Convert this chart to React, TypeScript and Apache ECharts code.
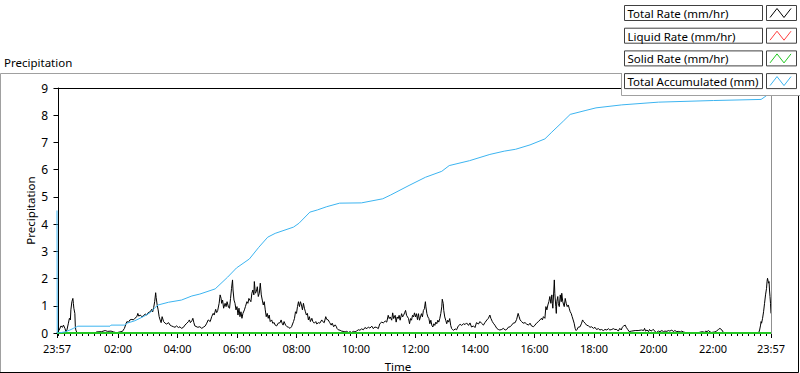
import React, { useEffect, useRef } from "react";
import * as echarts from "echarts";

const FONT = "'Noto Sans', 'DejaVu Sans', sans-serif";

// x values are minutes after midnight (the chart runs from 23:57 the day before to 23:57)
const X_MIN = -3;
const X_MAX = 1437;
const xLabelMinutes = [-3, 120, 240, 360, 480, 600, 720, 840, 960, 1080, 1200, 1320, 1437];
const yMin = 0;
const yMax = 9;

const seriesNames = [
  "Total Rate (mm/hr)",
  "Liquid Rate (mm/hr)",
  "Solid Rate (mm/hr)",
  "Total Accumulated (mm)",
];
const seriesColors = ["#000000", "#ff4040", "#22c822", "#3cb4f0"];

// Total Rate (mm/hr): [minute, value]
const totalRate: [number, number][] = [
  [-3, 0.02], [-2, 0.04], [1, 0.09], [5, 0.26], [8, 0.21], [10, 0.29], [13, 0.17], [15, 0.05], [17, 0.11],
  [20, 0.36], [22, 0.54], [24, 0.48], [25, 0.85], [27, 1.15], [29, 1.27], [30, 1.09], [31, 0.91], [33, 0.72],
  [34, 0.23], [35, 0.11], [37, 0.02], [40, 0.0], [74, 0.0], [77, 0.04], [87, 0.05], [94, 0.09], [99, 0.06],
  [106, 0.07], [111, 0.04], [117, 0.01], [124, 0.04], [129, 0.06], [133, 0.17], [136, 0.33], [138, 0.42],
  [141, 0.39], [144, 0.48], [148, 0.5], [151, 0.48], [154, 0.54], [158, 0.6], [160, 0.72], [162, 0.62],
  [165, 0.66], [168, 0.6], [171, 0.62], [175, 0.7], [178, 0.66], [181, 0.75], [185, 0.78], [188, 0.87],
  [190, 0.78], [192, 0.94], [194, 1.15], [196, 1.48], [197, 1.3], [199, 1.03], [201, 0.85], [203, 0.6],
  [205, 0.48], [207, 0.38], [209, 0.6], [212, 0.42], [215, 0.36], [218, 0.33], [222, 0.38], [225, 0.29],
  [228, 0.26], [232, 0.23], [235, 0.21], [238, 0.26], [242, 0.2], [245, 0.23], [248, 0.17], [252, 0.21],
  [255, 0.29], [259, 0.36], [262, 0.42], [264, 0.48], [266, 0.38], [269, 0.45], [271, 0.54], [273, 0.38],
  [275, 0.26], [281, 0.21], [285, 0.23], [289, 0.17], [292, 0.21], [296, 0.26], [299, 0.36], [302, 0.48],
  [306, 0.42], [309, 0.6], [312, 0.72], [314, 0.66], [317, 0.87], [319, 0.75], [321, 0.82], [324, 1.09],
  [326, 1.4], [328, 1.27], [329, 1.09], [331, 1.21], [333, 0.91], [336, 1.09], [338, 0.97], [340, 1.15],
  [343, 0.94], [345, 0.91], [347, 1.27], [349, 1.64], [351, 1.95], [352, 1.58], [354, 1.21], [356, 1.09],
  [358, 0.85], [360, 0.97], [362, 0.66], [364, 0.91], [366, 0.6], [368, 0.78], [370, 0.54], [372, 0.72],
  [375, 0.85], [377, 0.97], [380, 1.15], [382, 1.09], [384, 1.27], [386, 1.21], [388, 1.15], [390, 1.46],
  [392, 1.58], [394, 1.4], [395, 1.89], [397, 1.46], [399, 1.52], [401, 1.7], [403, 1.34], [405, 1.46],
  [407, 1.83], [409, 1.4], [411, 1.21], [413, 1.03], [415, 1.15], [417, 0.85], [419, 0.6], [421, 0.72],
  [423, 0.54], [425, 0.66], [427, 0.42], [430, 0.48], [432, 0.36], [435, 0.38], [437, 0.29], [440, 0.26],
  [443, 0.36], [447, 0.38], [449, 0.48], [451, 0.36], [453, 0.29], [455, 0.42], [458, 0.29], [461, 0.23],
  [464, 0.21], [467, 0.17], [470, 0.23], [474, 0.42], [476, 0.54], [478, 0.78], [480, 0.72], [482, 0.97],
  [484, 1.15], [486, 0.97], [488, 1.15], [490, 1.03], [492, 0.85], [494, 1.09], [496, 0.91], [498, 0.78],
  [500, 0.66], [502, 0.72], [504, 0.48], [506, 0.6], [508, 0.42], [511, 0.54], [513, 0.42], [516, 0.36],
  [519, 0.42], [521, 0.33], [524, 0.38], [527, 0.36], [531, 0.48], [533, 0.42], [536, 0.38], [539, 0.6],
  [541, 0.5], [544, 0.48], [547, 0.38], [550, 0.29], [552, 0.36], [555, 0.23], [558, 0.3], [560, 0.25],
  [562, 0.16], [564, 0.12], [568, 0.1], [571, 0.07], [574, 0.06], [578, 0.04], [581, 0.06], [585, 0.02],
  [588, 0.05], [591, 0.02], [595, 0.06], [598, 0.04], [601, 0.07], [605, 0.12], [608, 0.1], [611, 0.15],
  [615, 0.12], [618, 0.2], [622, 0.16], [625, 0.22], [628, 0.18], [632, 0.25], [635, 0.16], [638, 0.22],
  [642, 0.2], [645, 0.16], [648, 0.34], [652, 0.4], [655, 0.37], [659, 0.44], [662, 0.4], [665, 0.65],
  [667, 0.53], [669, 0.59], [672, 0.47], [674, 0.74], [676, 0.53], [679, 0.65], [681, 0.4], [683, 0.59],
  [685, 0.53], [687, 0.65], [689, 0.47], [692, 0.71], [694, 0.59], [696, 0.65], [698, 0.74], [700, 0.83],
  [702, 0.65], [704, 0.59], [706, 0.53], [708, 0.34], [710, 0.53], [712, 0.47], [714, 0.65], [716, 0.59],
  [718, 0.74], [720, 0.59], [722, 0.71], [724, 0.49], [726, 0.71], [728, 0.47], [730, 0.59], [732, 0.71],
  [734, 0.59], [736, 0.83], [738, 0.89], [740, 1.15], [741, 0.96], [743, 0.71], [745, 0.59], [747, 0.53],
  [749, 0.34], [751, 0.47], [753, 0.28], [755, 0.22], [757, 0.34], [759, 0.28], [761, 0.4], [763, 0.34],
  [765, 0.47], [767, 0.4], [769, 0.53], [771, 0.71], [773, 0.96], [774, 1.24], [776, 1.08], [777, 0.83],
  [779, 0.59], [781, 0.47], [783, 0.34], [785, 0.47], [787, 0.4], [789, 0.53], [791, 0.28], [793, 0.16],
  [795, 0.12], [797, 0.1], [800, 0.15], [803, 0.12], [806, 0.25], [810, 0.32], [813, 0.28], [817, 0.34],
  [820, 0.31], [823, 0.37], [827, 0.28], [830, 0.37], [833, 0.22], [837, 0.26], [840, 0.2], [843, 0.38],
  [847, 0.33], [850, 0.42], [853, 0.36], [857, 0.29], [860, 0.38], [864, 0.48], [867, 0.54], [870, 0.66],
  [872, 0.54], [875, 0.42], [877, 0.36], [880, 0.29], [884, 0.17], [887, 0.13], [890, 0.11], [894, 0.13],
  [897, 0.17], [901, 0.11], [904, 0.13], [907, 0.21], [911, 0.23], [914, 0.29], [917, 0.36], [921, 0.38],
  [924, 0.5], [927, 0.72], [929, 0.6], [931, 0.48], [934, 0.42], [937, 0.36], [941, 0.38], [944, 0.33],
  [948, 0.29], [951, 0.36], [954, 0.26], [958, 0.23], [961, 0.29], [964, 0.36], [968, 0.42], [971, 0.48],
  [974, 0.54], [976, 0.48], [978, 0.6], [981, 0.54], [983, 0.97], [985, 0.85], [987, 1.03], [989, 1.15],
  [991, 1.34], [993, 1.09], [995, 1.4], [996, 1.09], [997, 0.91], [999, 1.58], [1000, 1.95], [1001, 1.46],
  [1003, 0.97], [1004, 0.72], [1005, 1.15], [1007, 1.34], [1008, 1.09], [1010, 0.97], [1012, 1.4],
  [1014, 1.15], [1015, 1.46], [1017, 1.15], [1020, 0.97], [1022, 1.27], [1024, 1.09], [1026, 0.97],
  [1028, 1.03], [1030, 0.91], [1032, 0.78], [1034, 0.72], [1036, 0.6], [1038, 0.48], [1040, 0.36],
  [1042, 0.17], [1044, 0.09], [1046, 0.13], [1048, 0.21], [1052, 0.23], [1055, 0.36], [1057, 0.48],
  [1059, 0.42], [1062, 0.36], [1065, 0.29], [1069, 0.26], [1072, 0.21], [1075, 0.23], [1079, 0.17],
  [1082, 0.21], [1085, 0.13], [1089, 0.16], [1092, 0.11], [1095, 0.13], [1099, 0.09], [1102, 0.13],
  [1106, 0.11], [1109, 0.16], [1112, 0.11], [1116, 0.13], [1119, 0.16], [1122, 0.13], [1126, 0.13],
  [1129, 0.07], [1132, 0.17], [1135, 0.11], [1137, 0.21], [1140, 0.26], [1143, 0.29], [1145, 0.21],
  [1148, 0.13], [1151, 0.05], [1156, 0.07], [1163, 0.09], [1169, 0.09], [1176, 0.11], [1180, 0.09],
  [1182, 0.17], [1184, 0.07], [1187, 0.11], [1190, 0.05], [1192, 0.13], [1195, 0.07], [1198, 0.11],
  [1200, 0.13], [1203, 0.05], [1206, 0.02], [1210, 0.07], [1213, 0.05], [1217, 0.09], [1220, 0.05],
  [1223, 0.07], [1227, 0.06], [1230, 0.09], [1233, 0.07], [1237, 0.11], [1240, 0.05], [1243, 0.09],
  [1247, 0.05], [1250, 0.06], [1254, 0.04], [1257, 0.07], [1260, 0.04], [1264, 0.02], [1270, 0.01],
  [1290, 0.01], [1296, 0.04], [1299, 0.05], [1303, 0.02], [1305, 0.07], [1308, 0.05], [1311, 0.09],
  [1314, 0.04], [1317, 0.02], [1324, 0.04], [1327, 0.07], [1331, 0.13], [1334, 0.17], [1338, 0.11],
  [1341, 0.02], [1344, 0.0], [1412, 0.0], [1414, 0.11], [1416, 0.29], [1417, 0.42], [1418, 0.36],
  [1420, 0.54], [1422, 0.78], [1424, 1.09], [1426, 1.4], [1428, 1.64], [1429, 1.89], [1430, 2.01],
  [1432, 1.83], [1433, 1.89], [1434, 1.58], [1435, 1.34], [1436, 1.09], [1437, 0.72],
];

// Liquid and Solid Rate (mm/hr): flat at zero over the whole day
const liquidRate: [number, number][] = [[-3, 0], [1437, 0]];
const solidRate: [number, number][] = [[-3, 0], [1437, 0]];

// Total Accumulated (mm)
const totalAccumulated: [number, number][] = [
  [-3, 4.5], [-2.5, 0.0], [3, 0.01], [13, 0.04], [23, 0.11], [30, 0.17], [37, 0.23], [39, 0.25],
  [104, 0.25], [106, 0.29], [134, 0.29], [138, 0.36], [154, 0.45], [171, 0.6], [185, 0.75], [195, 0.94],
  [201, 1.03], [222, 1.13], [248, 1.21], [269, 1.36], [285, 1.43], [316, 1.62], [341, 2.05], [359, 2.39],
  [385, 2.72], [404, 3.15], [422, 3.52], [437, 3.66], [474, 3.89], [485, 4.03], [507, 4.44], [522, 4.52],
  [541, 4.64], [567, 4.77], [611, 4.78], [654, 4.93], [670, 5.07], [707, 5.42], [740, 5.72], [773, 5.94],
  [788, 6.15], [829, 6.33], [870, 6.56], [899, 6.68], [922, 6.75], [951, 6.91], [981, 7.13], [995, 7.38],
  [1018, 7.78], [1032, 8.03], [1062, 8.17], [1084, 8.27], [1136, 8.38], [1210, 8.48], [1321, 8.54],
  [1417, 8.58], [1428, 8.72], [1437, 8.9],
];

const minorTickMinutes: number[] = [];
for (let m = 0; m <= 1428; m += 12) minorTickMinutes.push(m);

function fmtTime(v: number): string {
  const mm = ((Math.round(v) % 1440) + 1440) % 1440;
  const h = Math.floor(mm / 60);
  const mi = mm % 60;
  return (h < 10 ? "0" : "") + h + ":" + (mi < 10 ? "0" : "") + mi;
}

export default function App() {
  const ref = useRef<HTMLDivElement>(null);

  useEffect(() => {
    if (!ref.current) return;
    const chart = echarts.init(ref.current, undefined, { renderer: "svg" });

    const GL = 57, GT = 88, GW = 714, GH = 245;
    const TXT = 11.5;

    const legendGraphics: any[] = [
      { type: "rect", z: 100, shape: { x: 621.5, y: 0, width: 179, height: 95.5 }, style: { fill: "#ffffff", stroke: null } },
      { type: "line", z: 101, shape: { x1: 621.5, y1: 73, x2: 621.5, y2: 95.5 }, style: { stroke: "#a0a0a0", lineWidth: 1 } },
      { type: "line", z: 101, shape: { x1: 621.5, y1: 95.5, x2: 800, y2: 95.5 }, style: { stroke: "#a0a0a0", lineWidth: 1 } },
    ];
    seriesNames.forEach((name, i) => {
      const top = 5.5 + i * 22.7;
      const h = 15;
      legendGraphics.push(
        { type: "rect", z: 102, shape: { x: 624.5, y: top, width: 138, height: h }, style: { fill: "#ffffff", stroke: "#404040", lineWidth: 1 } },
        { type: "text", z: 103, x: 627.5, y: top + h / 2 + 0.5, style: { text: name, fill: "#000", font: `${TXT}px ${FONT}`, textVerticalAlign: "middle", verticalAlign: "middle", textAlign: "left", align: "left" } },
        { type: "rect", z: 102, shape: { x: 766.5, y: top, width: 30, height: h }, style: { fill: "#ffffff", stroke: "#404040", lineWidth: 1 } },
        { type: "polyline", z: 103, shape: { points: [[770, top + h - 3], [777, top + 3], [784, top + h - 3], [791, top + 3]] }, style: { stroke: seriesColors[i], lineWidth: 1, fill: null } }
      );
    });

    chart.setOption({
      animation: false,
      backgroundColor: "#ffffff",
      textStyle: { fontFamily: FONT },
      title: {
        text: "Precipitation",
        left: 4,
        top: 56,
        padding: 0,
        textStyle: { fontSize: TXT, fontWeight: "normal", color: "#000", fontFamily: FONT },
      },
      grid: { left: GL, top: GT, width: GW, height: GH, containLabel: false, outerBoundsMode: "none" },
      xAxis: [
        {
          type: "value",
          min: X_MIN,
          max: X_MAX,
          position: "bottom",
          name: "Time",
          nameLocation: "middle",
          nameGap: 27,
          nameMoveOverlap: false,
          nameTextStyle: { color: "#000", fontSize: TXT, fontFamily: FONT, padding: [0, 32, 0, 0] },
          axisLine: { show: true, onZero: false, lineStyle: { color: "#808080", width: 1 } },
          axisTick: { show: true, length: 5, lineStyle: { color: "#000" }, customValues: xLabelMinutes },
          axisLabel: {
            customValues: xLabelMinutes,
            formatter: (v: number) => fmtTime(v),
            color: "#000",
            fontSize: 11,
            lineHeight: 11,
            fontFamily: FONT,
            margin: 10,
            showMinLabel: true,
            showMaxLabel: true,
            hideOverlap: false,
          },
          splitLine: { show: false },
        },
        {
          type: "value",
          min: X_MIN,
          max: X_MAX,
          position: "bottom",
          axisLine: { show: false },
          axisLabel: { show: false },
          splitLine: { show: false },
          axisTick: { show: true, length: 3, lineStyle: { color: "#000" }, customValues: minorTickMinutes },
        },
      ],
      yAxis: {
        type: "value",
        min: yMin,
        max: yMax,
        interval: 1,
        name: "Precipitation",
        nameLocation: "middle",
        nameGap: 21,
        nameMoveOverlap: false,
        nameTextStyle: { color: "#000", fontSize: TXT, fontFamily: FONT },
        axisLine: { show: true, lineStyle: { color: "#000", width: 1 } },
        axisTick: { show: true, length: 5, lineStyle: { color: "#000" } },
        axisLabel: { color: "#000", fontSize: 12, fontFamily: FONT, margin: 9, lineHeight: 10 },
        splitLine: { show: false },
      },
      series: [
        { name: seriesNames[0], type: "line", data: totalRate, symbol: "none", showSymbol: false, lineStyle: { color: seriesColors[0], width: 1 }, itemStyle: { color: seriesColors[0] }, z: 2 },
        { name: seriesNames[1], type: "line", data: liquidRate, symbol: "none", showSymbol: false, lineStyle: { color: seriesColors[1], width: 1 }, itemStyle: { color: seriesColors[1] }, z: 3 },
        { name: seriesNames[2], type: "line", data: solidRate, symbol: "none", showSymbol: false, lineStyle: { color: seriesColors[2], width: 2 }, itemStyle: { color: seriesColors[2] }, z: 4 },
        { name: seriesNames[3], type: "line", data: totalAccumulated, symbol: "none", showSymbol: false, lineStyle: { color: seriesColors[3], width: 1 }, itemStyle: { color: seriesColors[3] }, z: 5 },
      ],
      graphic: [
        // outer frame
        { type: "polyline", z: 50, shape: { points: [[0.5, 372], [0.5, 73.5], [622, 73.5]] }, style: { stroke: "#a0a0a0", lineWidth: 1, fill: null } },
        { type: "polyline", z: 50, shape: { points: [[0, 372.5], [798.5, 372.5], [798.5, 95]] }, style: { stroke: "#000", lineWidth: 1, fill: null } },
        // plot frame
        { type: "line", z: 50, shape: { x1: GL, y1: GT + 0.5, x2: GL + GW + 1, y2: GT + 0.5 }, style: { stroke: "#000", lineWidth: 1 } },
        { type: "line", z: 50, shape: { x1: GL + GW + 0.5, y1: GT, x2: GL + GW + 0.5, y2: GT + GH + 1 }, style: { stroke: "#909090", lineWidth: 1 } },
        ...legendGraphics,
      ],
    });

    return () => chart.dispose();
  }, []);

  return <div ref={ref} style={{ position: "fixed", left: 0, top: 0, width: 800, height: 373 }} />;
}
